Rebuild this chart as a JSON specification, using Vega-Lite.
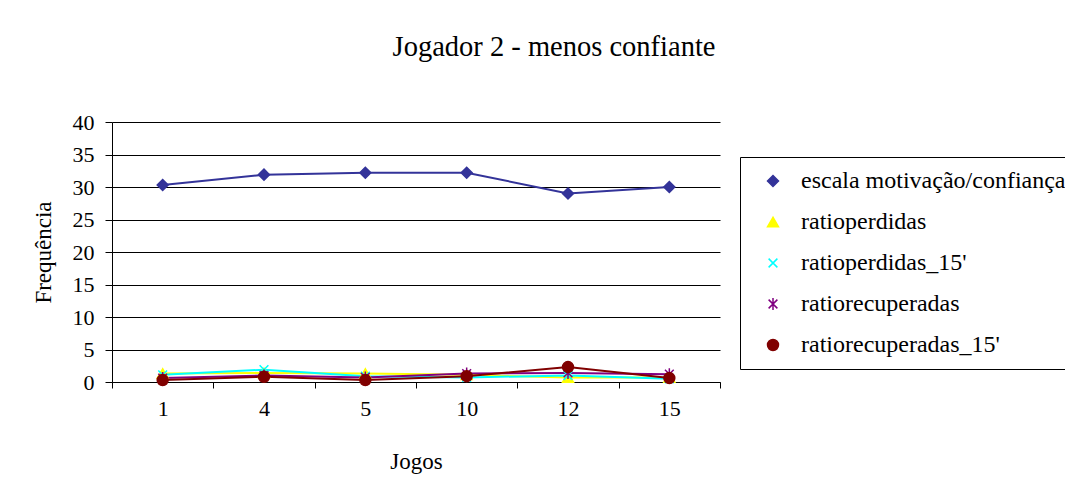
{
  "$schema": "https://vega.github.io/schema/vega-lite/v6.json",
  "autosize": {"type": "none"},
  "width": 608,
  "height": 260,
  "padding": {"left": 112, "top": 122, "right": 345, "bottom": 108},
  "background": "white",
  "config": {
    "font": "Liberation Serif",
    "view": {"stroke": null},
    "axis": {"labelFont": "Liberation Serif", "titleFont": "Liberation Serif", "labelColor": "black", "titleColor": "black", "titleFontWeight": "normal", "domainColor": "black", "tickColor": "black"},
    "legend": {"labelFont": "Liberation Serif", "labelFontSize": 24, "labelColor": "black"},
    "title": {"font": "Liberation Serif"}
  },
  "title": {"text": "Jogador 2 - menos confiante", "font": "Liberation Serif", "fontSize": 28.5, "fontWeight": "normal", "color": "black", "anchor": "middle", "dx": 138, "offset": 50},
  "data": {"values": [
    {"jogo": "1", "serie": "escala motivação/confiança", "valor": 30.3},
    {"jogo": "4", "serie": "escala motivação/confiança", "valor": 31.9},
    {"jogo": "5", "serie": "escala motivação/confiança", "valor": 32.2},
    {"jogo": "10", "serie": "escala motivação/confiança", "valor": 32.2},
    {"jogo": "12", "serie": "escala motivação/confiança", "valor": 29.0},
    {"jogo": "15", "serie": "escala motivação/confiança", "valor": 30.0},
    {"jogo": "1", "serie": "ratioperdidas", "valor": 1.3},
    {"jogo": "4", "serie": "ratioperdidas", "valor": 1.4},
    {"jogo": "5", "serie": "ratioperdidas", "valor": 1.3},
    {"jogo": "10", "serie": "ratioperdidas", "valor": 1.1},
    {"jogo": "12", "serie": "ratioperdidas", "valor": 0.7},
    {"jogo": "15", "serie": "ratioperdidas", "valor": 0.7},
    {"jogo": "1", "serie": "ratioperdidas_15'", "valor": 1.1},
    {"jogo": "4", "serie": "ratioperdidas_15'", "valor": 1.9},
    {"jogo": "5", "serie": "ratioperdidas_15'", "valor": 0.9},
    {"jogo": "10", "serie": "ratioperdidas_15'", "valor": 0.7},
    {"jogo": "12", "serie": "ratioperdidas_15'", "valor": 1.0},
    {"jogo": "15", "serie": "ratioperdidas_15'", "valor": 0.5},
    {"jogo": "1", "serie": "ratiorecuperadas", "valor": 0.6},
    {"jogo": "4", "serie": "ratiorecuperadas", "valor": 1.0},
    {"jogo": "5", "serie": "ratiorecuperadas", "valor": 0.7},
    {"jogo": "10", "serie": "ratiorecuperadas", "valor": 1.3},
    {"jogo": "12", "serie": "ratiorecuperadas", "valor": 1.4},
    {"jogo": "15", "serie": "ratiorecuperadas", "valor": 1.2},
    {"jogo": "1", "serie": "ratiorecuperadas_15'", "valor": 0.3},
    {"jogo": "4", "serie": "ratiorecuperadas_15'", "valor": 0.8},
    {"jogo": "5", "serie": "ratiorecuperadas_15'", "valor": 0.3},
    {"jogo": "10", "serie": "ratiorecuperadas_15'", "valor": 0.9},
    {"jogo": "12", "serie": "ratiorecuperadas_15'", "valor": 2.3},
    {"jogo": "15", "serie": "ratiorecuperadas_15'", "valor": 0.6}
  ]},
  "encoding": {
    "x": {"field": "jogo", "type": "ordinal", "sort": ["1", "4", "5", "10", "12", "15"], "bandPosition": 0.5,
      "scale": {"type": "band", "paddingInner": 0, "paddingOuter": 0},
      "axis": {"title": "Jogos", "labelAngle": 0, "tickBand": "extent", "labelFontSize": 22, "titleFontSize": 23, "tickSize": 6, "labelPadding": 10, "titlePadding": 31, "grid": false, "domainColor": "black"}},
    "y": {"field": "valor", "type": "quantitative",
      "scale": {"domain": [0, 40], "nice": false},
      "axis": {"title": "Frequência", "values": [0, 5, 10, 15, 20, 25, 30, 35, 40], "labelFontSize": 22, "titleFontSize": 23, "tickSize": 7, "labelPadding": 11, "titlePadding": 17, "grid": true, "gridColor": "black", "gridOpacity": 1, "gridWidth": 1}},
    "color": {"field": "serie", "type": "nominal",
      "scale": {"domain": ["escala motivação/confiança", "ratioperdidas", "ratioperdidas_15'", "ratiorecuperadas", "ratiorecuperadas_15'"], "range": ["#333399", "#FFFF00", "#00FFFF", "#800080", "#800000"]},
      "legend": {"title": null, "orient": "none", "legendX": 628, "legendY": 35, "labelFontSize": 24, "labelFont": "Liberation Serif", "labelColor": "black", "strokeColor": "black", "padding": 12, "rowPadding": 17, "symbolSize": 120, "symbolStrokeWidth": 1.5, "symbolOffset": 9, "labelOffset": 16, "labelLimit": 400}}
  },
  "layer": [
    {"mark": {"type": "line", "strokeWidth": 2}},
    {"mark": {"type": "point", "filled": true, "size": 120, "opacity": 1, "strokeWidth": 1.5},
      "encoding": {
        "shape": {"field": "serie", "type": "nominal", "legend": null,
          "scale": {"domain": ["escala motivação/confiança", "ratioperdidas", "ratioperdidas_15'", "ratiorecuperadas", "ratiorecuperadas_15'"], "range": ["diamond", "triangle-up", "M-0.8,-0.8L0.8,0.8M-0.8,0.8L0.8,-0.8", "M-0.8,-0.8L0.8,0.8M-0.8,0.8L0.8,-0.8M0,-1.1L0,1.1", "circle"]}},
        "stroke": {"field": "serie", "type": "nominal", "legend": null,
          "scale": {"domain": ["escala motivação/confiança", "ratioperdidas", "ratioperdidas_15'", "ratiorecuperadas", "ratiorecuperadas_15'"], "range": ["#333399", "#FFFF00", "#00FFFF", "#800080", "#800000"]}}
      }}
  ]
}
